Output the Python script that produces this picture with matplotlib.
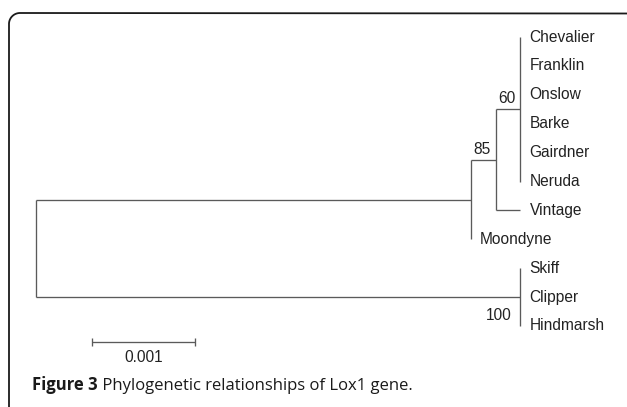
import matplotlib.pyplot as plt
import numpy as np

# --- Dados da árvore ---------------------------------------------------------
CLADO_A = ["Chevalier", "Franklin", "Onslow", "Barke", "Gairdner", "Neruda"]
CLADO_B = ["Skiff", "Clipper", "Hindmarsh"]

# (pai, filho, comprimento do ramo em substituições/sítio)
RAMOS = [
    ("raiz", "n85", 0.00421),
    ("raiz", "cB", 0.00469),
    ("n85", "n60", 0.00024),
    ("n85", "Moondyne", 0.0),
    ("n60", "cA", 0.00024),
    ("n60", "Vintage", 0.00024),
] + [("cA", f, 0.0) for f in CLADO_A] + [("cB", f, 0.0) for f in CLADO_B]

# bootstrap escrito sobre o ramo que leva ao nó indicado
BOOTSTRAP = {"n60": "85", "cA": "60", "cB": "100"}
ESCALA = 0.001

COR_RAMO = "#5a5a5a"
COR_TEXTO = "#222222"
W, H = 627, 407

filhos = {}
pai_de = {}
for pai, filho, comp in RAMOS:
    filhos.setdefault(pai, []).append((filho, comp))
    pai_de[filho] = pai

# posições x (distância acumulada) e y (ordem das folhas)
pos_x, pos_y = {"raiz": 0.0}, {}
folhas = []


def percorre(no):
    for filho, comp in filhos.get(no, []):
        pos_x[filho] = pos_x[no] + comp
        percorre(filho)
    if no not in filhos:
        pos_y[no] = len(folhas)
        folhas.append(no)
    else:
        ys = [pos_y[f] for f, _ in filhos[no]]
        pos_y[no] = (min(ys) + max(ys)) / 2


percorre("raiz")

fig = plt.figure(figsize=(W / 100, H / 100), dpi=100)

# moldura com canto arredondado
axf = fig.add_axes([0, 0, 1, 1])
axf.set_xlim(0, W)
axf.set_ylim(H, 0)
axf.axis("off")
r = 11
t = np.linspace(np.pi, 1.5 * np.pi, 30)
xs = np.concatenate([[9], 9 + r + r * np.cos(t), [W]])
ys = np.concatenate([[H], 13 + r + r * np.sin(t), [13.5]])
axf.plot(xs, ys, color="#1a1a1a", lw=1.3, solid_capstyle="butt")

# árvore
ax = fig.add_axes([0, 0, 1, 1])
px_por_unid = 103.3 / ESCALA
dy = 28.9
ax.set_xlim(-36 / px_por_unid, (W - 36) / px_por_unid)
ax.set_ylim((H - 37) / dy, -37 / dy)
ax.axis("off")

kw = dict(color=COR_RAMO, lw=0.95, solid_capstyle="butt")
for no, lista in filhos.items():
    ys_f = [pos_y[f] for f, _ in lista]
    ax.plot([pos_x[no], pos_x[no]], [min(ys_f), max(ys_f)], **kw)
    for f, comp in lista:
        if comp > 0:
            ax.plot([pos_x[no], pos_x[f]], [pos_y[f], pos_y[f]], **kw)

fonte = ["Liberation Sans", "DejaVu Sans"]
tam = 11.2
for f in folhas:
    ax.annotate(f, (pos_x[f], pos_y[f]), xytext=(6.5, 0), textcoords="offset points",
                va="center", ha="left", fontsize=tam, color=COR_TEXTO, family=fonte)

for no, txt in BOOTSTRAP.items():
    if no == "cB":
        ax.annotate(txt, (pos_x[no], pos_y[no]), xytext=(-6.5, -8), textcoords="offset points",
                    va="top", ha="right", fontsize=tam, color=COR_TEXTO, family=fonte)
    else:
        ax.annotate(txt, (pos_x[pai_de[no]], pos_y[no]), xytext=(1.5, 2),
                    textcoords="offset points", va="bottom", ha="left",
                    fontsize=tam, color=COR_TEXTO, family=fonte)

# barra de escala
x0 = 55.7 / px_por_unid
y0 = (341.7 - 37) / dy
ax.plot([x0, x0 + ESCALA], [y0, y0], **kw)
for xe in (x0, x0 + ESCALA):
    ax.plot([xe, xe], [y0 - 0.14, y0 + 0.14], **kw)
ax.annotate(f"{ESCALA}", (x0 + ESCALA / 2, y0), xytext=(0, -6), textcoords="offset points",
            ha="center", va="top", fontsize=tam, color=COR_TEXTO, family=fonte)

# legenda da figura
t1 = fig.text(32 / W, 1 - 390 / H, "Figure 3", fontsize=12, fontweight="bold",
              color="#1a1a1a", family="Open Sans", va="baseline")
axf.annotate(" Phylogenetic relationships of Lox1 gene.", xy=(1, 0), xycoords=t1,
             va="bottom", ha="left", fontsize=12, color="#1a1a1a", family="Open Sans")

fig.savefig("out.png", dpi=100)
